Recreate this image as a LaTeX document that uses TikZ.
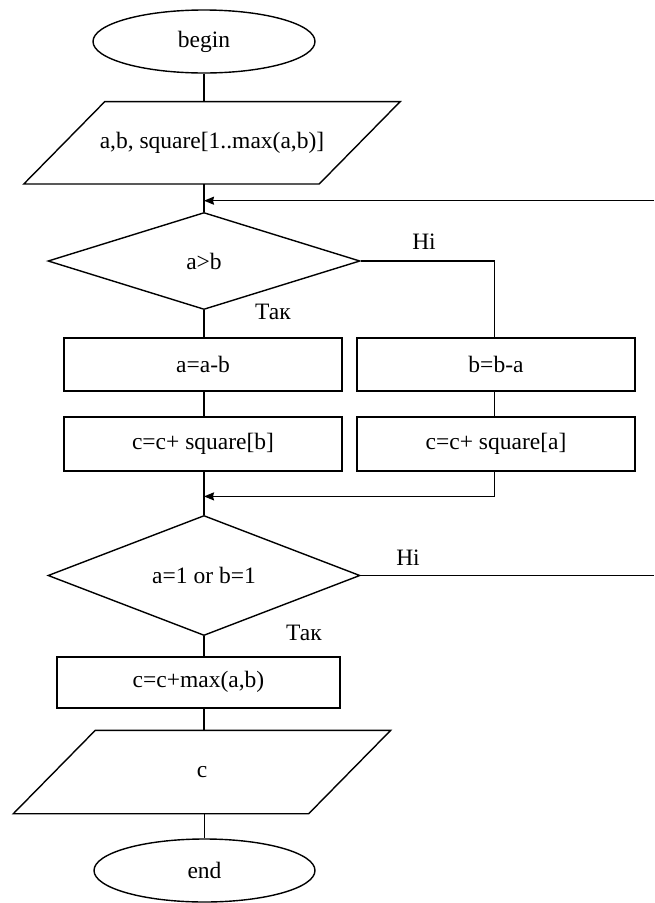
\documentclass[tikz,border=0pt]{standalone}
\usepackage{fontspec}
\setmainfont{Liberation Serif}
\usetikzlibrary{shapes.geometric,arrows.meta,calc}
\begin{document}
\begin{tikzpicture}[x=1pt,y=-1pt, line width=1.4pt, line join=miter,
  every node/.style={font=\fontsize{23.5}{27}\selectfont},
  term/.style={draw, ellipse, minimum width=222pt, minimum height=63pt, inner sep=0pt},
  proc/.style={draw, rectangle, minimum width=278pt, minimum height=53pt, inner sep=0pt},
  dec/.style={draw, diamond, minimum width=312pt, inner sep=0pt},
  io/.style={rectangle, minimum width=294pt, minimum height=81pt, inner sep=0pt},
  lbl/.style={inner sep=0pt},
  arr/.style={-{Stealth[length=10pt,width=8pt,inset=1pt]}}
]
\useasboundingbox (0,0) rectangle (654,903);

\node[term] (begin) at (204,41.5) {begin};
\node[io] (in) at (212,142.8) {a,b, square[1..max(a,b)]};
\draw ([xshift=40.5pt]in.north west) -- ([xshift=40.5pt]in.north east) -- ([xshift=-40.5pt]in.south east) -- ([xshift=-40.5pt]in.south west) -- cycle;

\node[dec, minimum height=97pt] (d1) at (204,261) {a>b};
\node[proc] (a1) at (203,364.5) {a=a-b};
\node[proc] (b1) at (496,364.5) {b=b-a};
\node[proc, minimum height=54pt] (a2) at (203,444) {c=c+ square[b]};
\node[proc, minimum height=54pt] (b2) at (496,444) {c=c+ square[a]};
\node[dec, minimum height=111pt] (d2) at (204,575.5) {a=1 or b=1};
\node[proc, minimum width=283pt, minimum height=51pt] (c3) at (198.5,682.3) {c=c+max(a,b)};
\node[io, minimum height=82pt] (out) at (202,772) {c};
\draw ([xshift=41pt]out.north west) -- ([xshift=41pt]out.north east) -- ([xshift=-41pt]out.south east) -- ([xshift=-41pt]out.south west) -- cycle;
\node[term, minimum width=221pt] (end) at (204.5,870.5) {end};

\node[lbl] (no1) at (424,242) {Ні};
\node[lbl] (yes1) at (273,312) {Так};
\node[lbl] (no2) at (408,558) {Ні};
\node[lbl] (yes2) at (304,633) {Так};

\draw (begin.south) -- (begin.south |- in.north);
\draw (d1.north |- in.south) -- (d1.north);
\coordinate (loopR) at (654,200.7);
\draw[arr] (loopR) -- (loopR -| d1.north);
\draw (d1.east) -| ([xshift=-1.5pt]b1.north);
\draw (d1.south) -- (d1.south |- a1.north);
\draw (a1.south -| d1.south) -- (a2.north -| d1.south);
\draw ([xshift=-1.5pt]b1.south) -- ([xshift=-1.5pt]b2.north);
\draw (a2.south -| d2.north) -- (d2.north);
\coordinate (mergeR) at ($(b2.south)+(-1.5,24.7)$);
\draw[arr] ([xshift=-1.5pt]b2.south) -- (mergeR) -- (mergeR -| d2.north);
\coordinate (exitR) at (654,575.5);
\draw (d2.east) -- (exitR);
\draw (d2.south) -- (d2.south |- c3.north);
\draw (c3.south -| d2.south) -- (d2.south |- out.north);
\draw (end.north |- out.south) -- (end.north);
\end{tikzpicture}
\end{document}
